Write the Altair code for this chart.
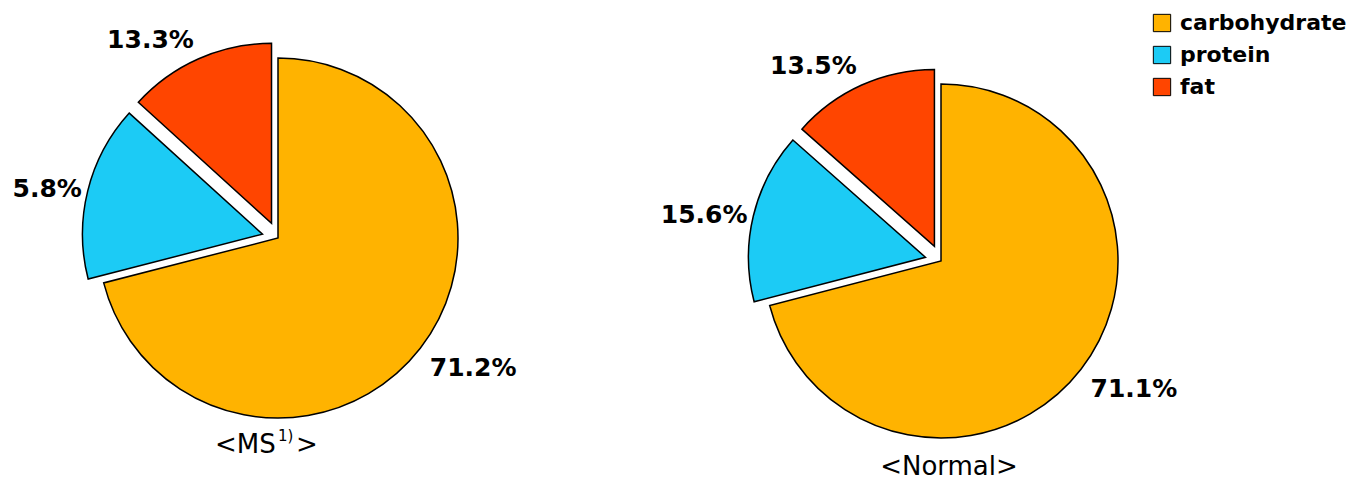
import altair as alt
import pandas as pd

# ---- data ----
nutrients = ["carbohydrate", "protein", "fat"]
ms_values = [71.2, 15.8, 13.3]
ms_labels = ["71.2%", "5.8%", "13.3%"]          # as printed (left label is cut in the source)
normal_values = [71.1, 15.6, 13.5]
normal_labels = ["71.1%", "15.6%", "13.5%"]
ms_title_parts = ["<MS", "1)", ">"]             # "1)" is a superscript
normal_title = "<Normal>"

# ---- styles ----
colors = ["#FFB300", "#1CCBF5", "#FF4500"]
FONT = "DejaVu Sans"


def pie(values, labels_txt, cx, cy, R, explode):
    df = pd.DataFrame({
        "nutrient": nutrients,
        "value": values,
        "lab": labels_txt,
        "order": list(range(len(values))),
    })
    base = (
        alt.Chart(df)
        .transform_joinaggregate(total="sum(value)")
        .transform_window(cum="sum(value)", sort=[alt.SortField("order")], frame=[None, 0])
        .transform_calculate(t1="datum.cum / datum.total * 2 * PI")
        .transform_calculate(t0="(datum.cum - datum.value) / datum.total * 2 * PI")
        .transform_calculate(mid="(datum.t0 + datum.t1) / 2")
        .transform_calculate(ex=f"datum.nutrient == 'carbohydrate' ? 0 : {explode}")
        .transform_calculate(px=f"{cx} + datum.ex * sin(datum.mid)")
        .transform_calculate(py=f"{cy} - datum.ex * cos(datum.mid)")
        .transform_calculate(lr=f"{R} + (abs(cos(datum.mid)) < 0.5 ? 6 : 12)")
        .transform_calculate(lx="datum.px + datum.lr * sin(datum.mid)")
        .transform_calculate(ly="datum.py - datum.lr * cos(datum.mid)")
    )
    arcs = base.mark_arc(outerRadius=R, stroke="black", strokeWidth=1.5).encode(
        x=alt.X("px:Q", scale=None, axis=None),
        y=alt.Y("py:Q", scale=None, axis=None),
        theta=alt.Theta("t0:Q", scale=None),
        theta2="t1:Q",
        color=alt.Color(
            "nutrient:N",
            scale=alt.Scale(domain=nutrients, range=colors),
            legend=alt.Legend(
                title=None,
                orient="none",
                legendX=1151,
                legendY=12,
                symbolType="square",
                symbolSize=300,
                symbolStrokeColor="black",
                symbolStrokeWidth=1,
                symbolOpacity=1,
                labelFont=FONT,
                labelFontSize=22,
                labelFontWeight="bold",
                labelColor="black",
                labelOffset=7,
                labelLimit=600,
                rowPadding=10,
                padding=0,
            ),
        ),
    )
    labels = base.mark_text(
        font=FONT,
        fontSize=25,
        fontWeight="bold",
        color="black",
        align=alt.ExprRef("sin(datum.mid) > 0 ? 'left' : 'right'"),
        baseline=alt.ExprRef(
            "cos(datum.mid) > 0.5 ? 'alphabetic' : (cos(datum.mid) < -0.5 ? 'top' : 'middle')"
        ),
    ).encode(
        x=alt.X("lx:Q", scale=None, axis=None),
        y=alt.Y("ly:Q", scale=None, axis=None),
        text="lab:N",
    )
    return arcs + labels


def text(t, x, y, size=26, align="center"):
    return alt.Chart(pd.DataFrame({"t": [t]})).mark_text(
        font=FONT, fontSize=size, color="black", align=align, baseline="alphabetic"
    ).encode(text="t:N", x=alt.value(x), y=alt.value(y))


chart = (
    alt.layer(
        pie(ms_values, ms_labels, 278, 238, 180, 16),
        pie(normal_values, normal_labels, 941, 261, 177, 16),
        text(ms_title_parts[0], 215, 453, align="left"),
        text(ms_title_parts[1], 278, 441, size=15, align="left"),
        text(ms_title_parts[2], 296, 453, align="left"),
        text(normal_title, 949, 475),
    )
    .properties(width=1371, height=484, autosize="none", padding=0, background="white")
    .configure_view(stroke=None)
)

chart.save("out.html", embed_options={"renderer": "svg", "actions": False})
